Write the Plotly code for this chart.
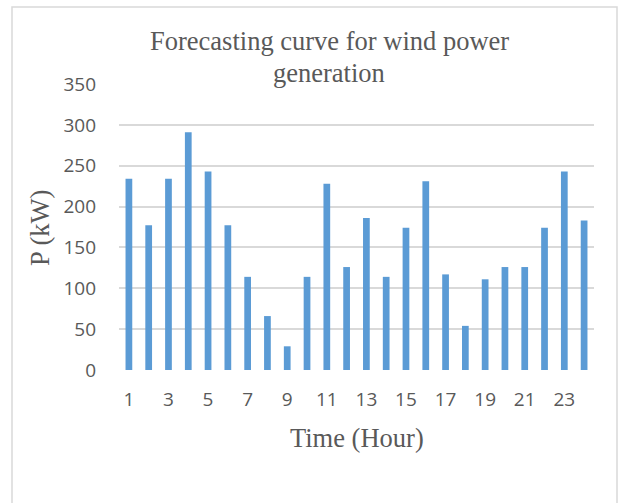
import plotly.graph_objects as go

hours = list(range(1, 25))
power_kw = [234, 177, 234, 291, 243, 177, 114, 66, 29, 114, 228, 126,
            186, 114, 174, 231, 117, 54, 111, 126, 126, 174, 243, 183]
x_tick_vals = list(range(1, 25, 2))
y_tick_vals = [0, 50, 100, 150, 200, 250, 300, 350]
title_lines = ["Forecasting curve for wind power", "generation"]

W, H = 619, 503
ML, MR, MT, MB = 119, 25, 84, 133
pw = W - ML - MR
ph = H - MT - MB

fig = go.Figure(go.Bar(x=hours, y=power_kw, marker=dict(color="#5B9BD5", line=dict(width=0))))

def px_x(p):
    return (p - ML) / pw

def px_y(p):
    return 1 - (p - MT) / ph

tick_font = dict(family="Open Sans, Liberation Sans", size=19, color="#595959")
serif_font = dict(family="Liberation Serif", size=26.5, color="#595959")

fig.update_layout(
    width=W, height=H,
    margin=dict(l=ML, r=MR, t=MT, b=MB),
    paper_bgcolor="white", plot_bgcolor="white",
    bargap=0.66,
    showlegend=False,
    xaxis=dict(range=[0.5, 24.5], tickvals=x_tick_vals, ticktext=[str(v) for v in x_tick_vals],
               showgrid=False, zeroline=False, showline=False, ticks="",
               tickfont=tick_font),
    yaxis=dict(range=[0, 350], tickvals=y_tick_vals, showgrid=True, gridcolor="#D9D9D9", gridwidth=1.5,
               zeroline=False, showline=False, ticks="", ticklen=0,
               tickfont=tick_font),
    font=dict(family="Liberation Serif"),
)
fig.update_yaxes(ticklabelstandoff=22)
fig.update_xaxes(ticklabelstandoff=16)

for txt, yc in zip(title_lines, [41, 73]):
    fig.add_annotation(text=txt, xref="paper", yref="paper",
                       x=px_x(329), y=px_y(yc), xanchor="center", yanchor="middle", showarrow=False,
                       font=serif_font)
fig.add_annotation(text="Time (Hour)", xref="paper", yref="paper",
                   x=px_x(357), y=px_y(438), xanchor="center", yanchor="middle", showarrow=False,
                   font=serif_font)
fig.add_annotation(text="P (kW)", xref="paper", yref="paper", textangle=-90,
                   x=px_x(40), y=px_y(228), xanchor="center", yanchor="middle", showarrow=False,
                   font=serif_font)
fig.add_shape(type="rect", xref="paper", yref="paper",
              x0=px_x(12), x1=px_x(617), y0=px_y(520), y1=px_y(7),
              line=dict(color="#D9D9D9", width=1.5), fillcolor="rgba(0,0,0,0)", layer="below")

fig.write_html("out.html")
